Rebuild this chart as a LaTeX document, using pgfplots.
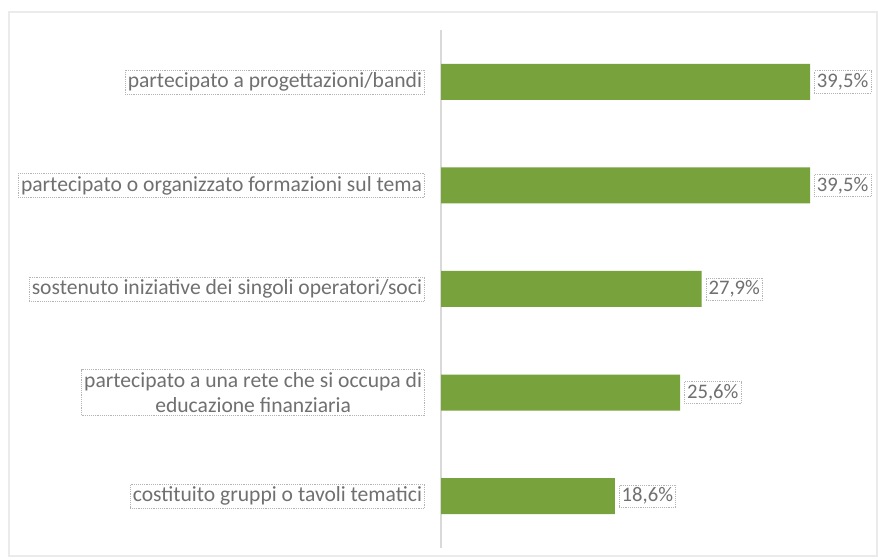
\documentclass[border=0pt]{standalone}
\usepackage{pgfplots}
\pgfplotsset{compat=1.18}
\usepackage{fontspec}
\setmainfont{Carlito}
\definecolor{bargreen}{HTML}{77A23C}
\definecolor{txt}{HTML}{707070}
\definecolor{boxc}{HTML}{B4B4B4}
\begin{document}
\begin{tikzpicture}
\path[fill=white] (0,0) rectangle (658.5pt,420pt);
\draw[color=black!8, line width=0.8pt] (6.75pt,3pt) rectangle (657.75pt,411pt);
\begin{axis}[
  at={(330.75pt,9pt)}, anchor=south west,
  scale only axis, width=315.3pt, height=388.5pt,
  xmin=0, xmax=45, ymin=-0.5, ymax=4.5,
  axis x line=none,
  axis y line=left,
  y axis line style={-, draw=black!15, line width=0.8pt},
  major tick length=0pt,
  xbar, bar width=27pt,
  ytick={0,1,2,3,4},
  yticklabels={{costituito gruppi o tavoli tematici},
               {partecipato a una rete che si occupa di\\educazione finanziaria},
               {sostenuto iniziative dei singoli operatori/soci},
               {partecipato o organizzato formazioni sul tema},
               {partecipato a progettazioni/bandi}},
  yticklabel style={draw=boxc, densely dotted, inner sep=2pt, text=txt,
     font=\fontsize{16.2}{19}\selectfont, align=center, xshift=-12pt},
  nodes near coords={\pgfmathprintnumber[fixed,fixed zerofill,precision=1,use comma,assume math mode=true]{\pgfplotspointmeta}\%},
  every node near coord/.append style={draw=boxc, densely dotted, inner sep=2pt, text=txt,
     font=\fontsize{15.5}{18}\selectfont, xshift=3pt},
  clip=false,
]
\addplot[fill=bargreen, draw=none] coordinates {
 (18.6,0) (25.6,1) (27.9,2) (39.5,3) (39.5,4)
};
\end{axis}
\end{tikzpicture}
\end{document}
